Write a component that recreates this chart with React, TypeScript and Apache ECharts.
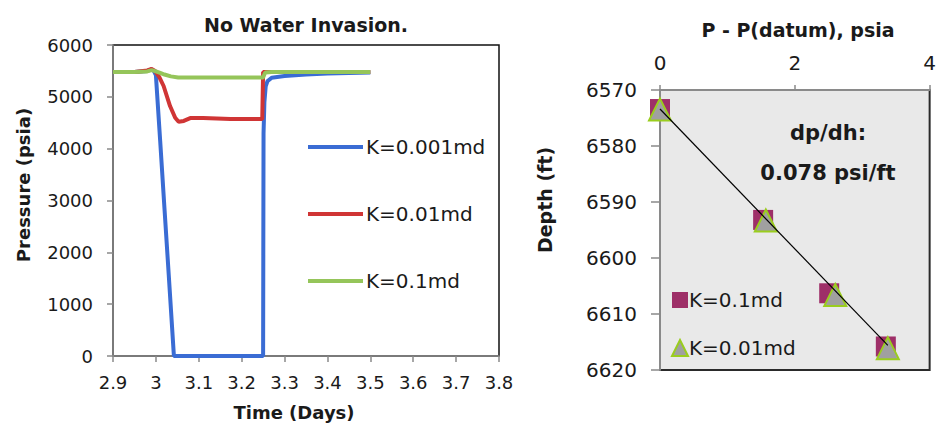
import React, { useEffect, useRef } from "react";
import * as echarts from "echarts";

// ---- Left chart data: pressure vs time ----
const tBlue = [2.9, 2.95, 2.98, 2.99, 2.995, 3.0, 3.01, 3.02, 3.03, 3.042, 3.1, 3.2, 3.25, 3.251, 3.253, 3.256, 3.26, 3.27, 3.3, 3.35, 3.4, 3.5];
const pBlue = [5480, 5480, 5500, 5530, 5500, 5420, 4150, 2850, 1560, 0, 0, 0, 0, 4300, 4900, 5200, 5300, 5370, 5400, 5430, 5450, 5470];

const tRed = [2.9, 2.95, 2.98, 2.99, 2.998, 3.008, 3.018, 3.033, 3.045, 3.053, 3.065, 3.08, 3.11, 3.174, 3.248, 3.25, 3.26, 3.3, 3.5];
const pRed = [5480, 5480, 5510, 5540, 5500, 5380, 5209, 4822, 4597, 4520, 4535, 4590, 4590, 4570, 4570, 5480, 5480, 5480, 5480];

const tGreen = [2.9, 2.95, 2.98, 2.99, 3.0, 3.01, 3.02, 3.035, 3.052, 3.1, 3.2, 3.25, 3.255, 3.27, 3.35, 3.5];
const pGreen = [5480, 5480, 5490, 5515, 5490, 5460, 5430, 5395, 5375, 5375, 5375, 5375, 5470, 5480, 5480, 5480];

const lineNames = ["K=0.001md", "K=0.01md", "K=0.1md"];
const xTicksLeft = { min: 2.9, max: 3.8, interval: 0.1 };
const yTicksLeft = { min: 0, max: 6000, interval: 1000 };

// ---- Right chart data: depth vs P - P(datum) ----
const sqDp = [0, 1.53, 2.51, 3.35];
const sqDepth = [6573.4, 6593.2, 6606.3, 6615.8];
const triDp = [0, 1.57, 2.6, 3.38];
const triDepth = [6573.5, 6593.3, 6606.6, 6616.1];
const trendDp = [0, 3.38];
const trendDepth = [6573.4, 6615.6];
const scatterNames = ["K=0.1md", "K=0.01md"];
const xTicksRight = { min: 0, max: 4, interval: 2 };
const yTicksRight = { min: 6570, max: 6620, interval: 10 };

const FONT = "DejaVu Sans";
const TXT = "#1a1a1a";
const AXIS = "#8a8a8a";
const SUFFIX = " (depth)";

const zip = (a: number[], b: number[]) => a.map((v, i) => [v, b[i]]);

export default function App() {
  const ref = useRef<HTMLDivElement>(null);
  useEffect(() => {
    if (!ref.current) return;
    const chart = echarts.init(ref.current, undefined, { renderer: "svg" });
    const boldText = (text: string, x: number, y: number, size: number, rot = 0) => ({
      type: "text",
      x,
      y,
      rotation: rot,
      style: {
        text,
        fill: TXT,
        font: `bold ${size}px ${FONT}`,
        textAlign: "center",
        textVerticalAlign: "middle",
      },
    });
    chart.setOption({
      animation: false,
      backgroundColor: "#ffffff",
      textStyle: { fontFamily: FONT },
      grid: [
        { left: 113, top: 45, width: 386, height: 311, show: true, borderColor: "#111", borderWidth: 1.5, backgroundColor: "#fff" },
        { left: 660, top: 90, width: 274, height: 280, show: true, borderColor: "#2a2a2a", borderWidth: 2, backgroundColor: "#e9e9e9" },
      ],
      xAxis: [
        {
          type: "value",
          gridIndex: 0,
          ...xTicksLeft,
          splitLine: { show: false },
          axisLine: { show: true, onZero: false, lineStyle: { color: AXIS, width: 1.5 } },
          axisTick: { show: true, length: 6, lineStyle: { color: AXIS, width: 1.5 } },
          axisLabel: {
            margin: 17,
            fontSize: 18,
            color: TXT,
            fontFamily: FONT,
            formatter: (v: number) => String(Math.round(v * 10) / 10),
          },
        },
        {
          type: "value",
          gridIndex: 1,
          position: "top",
          ...xTicksRight,
          splitLine: { show: false },
          axisLine: { show: true, onZero: false, lineStyle: { color: AXIS, width: 2 } },
          axisTick: { show: true, length: 5, lineStyle: { color: AXIS, width: 1.5 } },
          axisLabel: { margin: 17, fontSize: 20, color: TXT, fontFamily: FONT, formatter: (v: number) => String(v) },
        },
      ],
      yAxis: [
        {
          type: "value",
          gridIndex: 0,
          ...yTicksLeft,
          splitLine: { show: false },
          axisLine: { show: true, onZero: false, lineStyle: { color: AXIS, width: 1.5 } },
          axisTick: { show: true, length: 6, lineStyle: { color: AXIS, width: 1.5 } },
          axisLabel: { margin: 20, fontSize: 18, color: TXT, fontFamily: FONT, formatter: (v: number) => String(v) },
        },
        {
          type: "value",
          gridIndex: 1,
          inverse: true,
          ...yTicksRight,
          splitLine: { show: false },
          axisLine: { show: true, onZero: false, lineStyle: { color: AXIS, width: 2 } },
          axisTick: { show: true, length: 9, lineStyle: { color: AXIS, width: 1.5 } },
          axisLabel: { margin: 23, fontSize: 20, color: TXT, fontFamily: FONT, formatter: (v: number) => String(v) },
        },
      ],
      legend: [
        {
          data: lineNames,
          orient: "vertical",
          left: 303,
          top: 130,
          icon: "rect",
          itemWidth: 55,
          itemHeight: 4,
          itemGap: 43,
          textStyle: { fontSize: 20, lineHeight: 24, color: TXT, fontFamily: FONT, padding: [0, 0, 0, -2] },
        },
        {
          data: [
            { name: scatterNames[0] + SUFFIX, icon: "rect" },
            { name: scatterNames[1] + SUFFIX, icon: "triangle" },
          ],
          formatter: (n: string) => n.replace(SUFFIX, ""),
          orient: "vertical",
          left: 666,
          top: 283,
          itemWidth: 16,
          itemHeight: 16,
          itemGap: 24,
          textStyle: { fontSize: 20, lineHeight: 24, color: TXT, fontFamily: FONT, padding: [0, 0, 0, -4] },
        },
      ],
      series: [
        {
          name: lineNames[0],
          type: "line",
          xAxisIndex: 0,
          yAxisIndex: 0,
          data: zip(tBlue, pBlue),
          showSymbol: false,
          symbol: "none",
          lineStyle: { color: "#3a6cd4", width: 4 },
          itemStyle: { color: "#3a6cd4" },
        },
        {
          name: lineNames[1],
          type: "line",
          xAxisIndex: 0,
          yAxisIndex: 0,
          data: zip(tRed, pRed),
          showSymbol: false,
          symbol: "none",
          lineStyle: { color: "#d03535", width: 4 },
          itemStyle: { color: "#d03535" },
        },
        {
          name: lineNames[2],
          type: "line",
          xAxisIndex: 0,
          yAxisIndex: 0,
          data: zip(tGreen, pGreen),
          showSymbol: false,
          symbol: "none",
          lineStyle: { color: "#95c55a", width: 4 },
          itemStyle: { color: "#95c55a" },
        },
        {
          name: scatterNames[0] + SUFFIX,
          type: "scatter",
          xAxisIndex: 1,
          yAxisIndex: 1,
          data: zip(sqDp, sqDepth),
          symbol: "rect",
          symbolSize: 20,
          itemStyle: { color: "#9e2f68", opacity: 1 },
        },
        {
          name: scatterNames[1] + SUFFIX,
          type: "scatter",
          xAxisIndex: 1,
          yAxisIndex: 1,
          data: zip(triDp, triDepth),
          symbol: "triangle",
          symbolSize: 22,
          itemStyle: { color: "#a0a0a0", borderColor: "#9acd1e", borderWidth: 2, opacity: 1 },
        },
        {
          name: "trend",
          type: "line",
          xAxisIndex: 1,
          yAxisIndex: 1,
          data: zip(trendDp, trendDepth),
          symbol: "none",
          lineStyle: { color: "#000", width: 1.2 },
          z: 5,
        },
      ],
      graphic: [
        boldText("No Water Invasion.", 306, 25, 19),
        boldText("Time (Days)", 294, 412, 18),
        boldText("Pressure (psia)", 23, 185, 18, Math.PI / 2),
        boldText("P - P(datum), psia", 798, 30, 19),
        boldText("Depth (ft)", 545, 200, 19, Math.PI / 2),
        boldText("dp/dh:", 828, 133, 21),
        boldText("0.078 psi/ft", 828, 173, 21),
      ],
    });
    return () => chart.dispose();
  }, []);
  return (
    <div
      ref={ref}
      style={{ position: "fixed", left: 0, top: 0, width: 939, height: 423, background: "#fff" }}
    />
  );
}
